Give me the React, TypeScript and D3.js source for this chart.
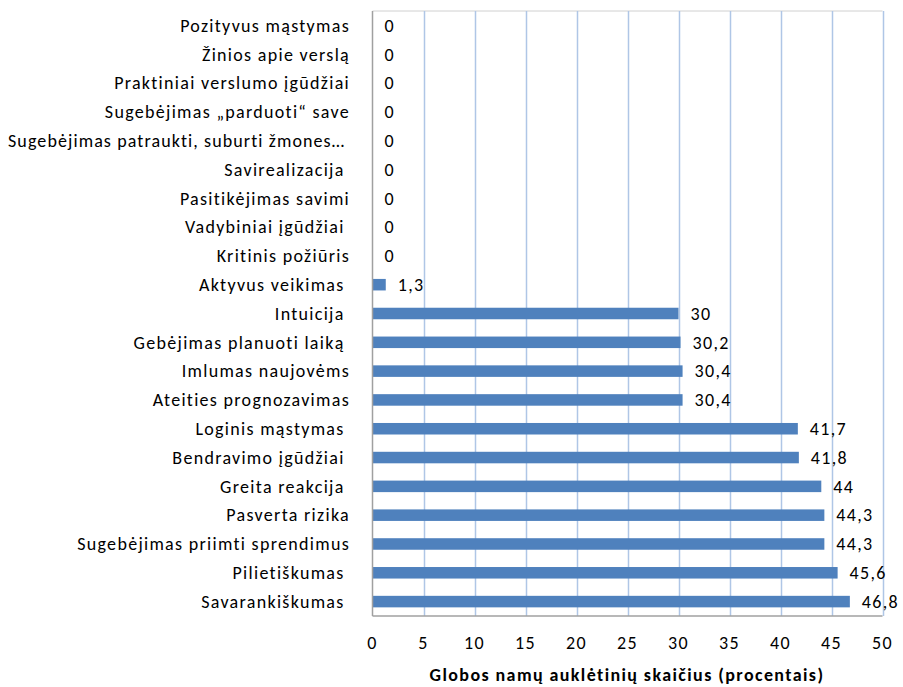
import React from "react";
import * as d3 from "d3";

const categories: string[] = [
  "Pozityvus mąstymas",
  "Žinios apie verslą",
  "Praktiniai verslumo įgūdžiai",
  "Sugebėjimas „parduoti“ save",
  "Sugebėjimas patraukti, suburti žmones…",
  "Savirealizacija ",
  "Pasitikėjimas savimi",
  "Vadybiniai įgūdžiai ",
  "Kritinis požiūris",
  "Aktyvus veikimas ",
  "Intuicija ",
  "Gebėjimas planuoti laiką ",
  "Imlumas naujovėms",
  "Ateities prognozavimas",
  "Loginis mąstymas ",
  "Bendravimo įgūdžiai ",
  "Greita reakcija ",
  "Pasverta rizika",
  "Sugebėjimas priimti sprendimus",
  "Pilietiškumas ",
  "Savarankiškumas ",
];

const values: number[] = [
  0, 0, 0, 0, 0, 0, 0, 0, 0, 1.3, 30, 30.2, 30.4, 30.4, 41.7, 41.8, 44, 44.3, 44.3, 45.6, 46.8,
];

const xTicks: number[] = [0, 5, 10, 15, 20, 25, 30, 35, 40, 45, 50];
const xTitle = "Globos namų auklėtinių skaičius (procentais)";

const W = 903;
const H = 687;
const left = 372.5;
const right = 882.5;
const top = 11;
const bottom = 616;
const FONT = "Carlito, Calibri, Lato, 'Open Sans', sans-serif";
const FS = 18;
const LS = 1.3;

export default function App() {
  const x = d3.scaleLinear().domain([0, 50]).range([left, right]);
  const y = d3
    .scaleBand<string>()
    .domain(categories.map((c, i) => String(i)))
    .range([top, bottom])
    .paddingInner(0.6)
    .paddingOuter(0.3);
  const fmt = (v: number) => d3.format("~f")(v).replace(".", ",");

  return (
    <svg
      width={W}
      height={H}
      style={{ position: "absolute", left: 0, top: 0, background: "#fff" }}
      fontFamily={FONT}
    >
      <line x1={left} x2={right} y1={top} y2={top} stroke="#D0D0D0" strokeWidth={1} />
      {xTicks.slice(1).map((t) => (
        <line
          key={"g" + t}
          x1={Math.round(x(t)) + 0.5}
          x2={Math.round(x(t)) + 0.5}
          y1={top}
          y2={bottom}
          stroke="#AFC6E6"
          strokeWidth={1.5}
        />
      ))}
      {values.map((v, i) => (
        <rect
          key={"b" + i}
          x={x(0)}
          y={y(String(i))!}
          width={x(v) - x(0)}
          height={y.bandwidth()}
          fill="#4F81BD"
        />
      ))}
      <line x1={left} x2={left} y1={top} y2={bottom} stroke="#A0A0A0" strokeWidth={1.5} />
      <line x1={left} x2={right} y1={bottom} y2={bottom} stroke="#A0A0A0" strokeWidth={1.5} />
      {categories.map((c, i) => {
        const cy = y(String(i))! + y.bandwidth() / 2;
        const long = c.endsWith("…");
        return (
          <text
            key={"c" + i}
            x={long ? 8 : 350}
            y={cy}
            dy="0.35em"
            textAnchor={long ? "start" : "end"}
            fontSize={FS}
            letterSpacing={long ? 1.1 : LS}
            fill="#000"
            style={{ whiteSpace: "pre" }}
          >
            {c}
          </text>
        );
      })}
      {values.map((v, i) => (
        <text
          key={"v" + i}
          x={x(v) + 12}
          y={y(String(i))! + y.bandwidth() / 2}
          dy="0.35em"
          fontSize={FS}
          letterSpacing={LS}
          fill="#000"
        >
          {fmt(v)}
        </text>
      ))}
      {xTicks.map((t) => (
        <text
          key={"t" + t}
          x={x(t)}
          y={643}
          dy="0.35em"
          textAnchor="middle"
          fontSize={FS}
          letterSpacing={LS}
          fill="#000"
        >
          {t}
        </text>
      ))}
      <text
        x={627}
        y={675}
        dy="0.35em"
        textAnchor="middle"
        fontSize={FS}
        fontWeight="bold"
        letterSpacing={1.4}
        fill="#000"
      >
        {xTitle}
      </text>
    </svg>
  );
}
